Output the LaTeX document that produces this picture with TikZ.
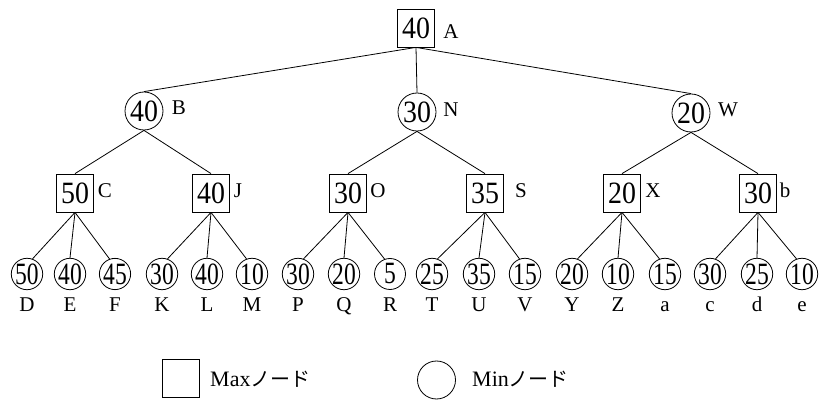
\documentclass[tikz,border=0pt]{standalone}
\usepackage{fontspec}
\setmainfont{Liberation Serif}
\newfontfamily\jpfont{Noto Sans CJK JP}
% narrow digits inside the small leaf circles and the boxes
\newcommand\leafval[1]{\scalebox{0.76}[1]{#1}}
\newcommand\boxval[1]{\scalebox{0.9}[1]{#1}}
\begin{document}
\begin{tikzpicture}[x=1pt,y=-1pt,
  maxnode/.style={draw, line width=0.8pt, minimum width=37pt, minimum height=38pt,
    inner sep=0pt, font=\fontsize{31}{31}\selectfont},
  minnode/.style={draw, circle, line width=0.8pt, minimum size=38pt, inner sep=0pt,
    font=\fontsize{31}{31}\selectfont},
  leafnode/.style={draw, circle, line width=0.8pt, minimum size=31pt, inner sep=0pt,
    font=\fontsize{31}{31}\selectfont},
  tag/.style={font=\fontsize{21}{21}\selectfont, inner sep=0pt},
  edge/.style={line width=0.8pt},
  legendtext/.style={anchor=west, inner sep=0pt, font=\fontsize{22}{22}\selectfont}]
\useasboundingbox (0,0) rectangle (822,403);

% root
\node[maxnode] (A) at (416,28) {\boxval{40}};
\node[tag] (tA) at (451,32) {A};

% second level (min)
\node[minnode] (B) at (144,111) {\boxval{40}};
\node[minnode] (N) at (417,112) {\boxval{30}};
\node[minnode] (W) at (691,113) {\boxval{20}};
\node[tag] (tB) at (179,108) {B};
\node[tag] (tN) at (451,110) {N};
\node[tag] (tW) at (728,110) {W};

% third level (max)
\node[maxnode] (C) at (75,193) {\boxval{50}};
\node[maxnode] (J) at (211,193) {\boxval{40}};
\node[maxnode] (O) at (348,193) {\boxval{30}};
\node[maxnode] (S) at (485,193) {\boxval{35}};
\node[maxnode] (X) at (622,193) {\boxval{20}};
\node[maxnode] (b) at (758,193) {\boxval{30}};
\node[tag, anchor=base] (tC) at (105,198) {C};
\node[tag, anchor=base] (tJ) at (238,198) {J};
\node[tag, anchor=base] (tO) at (378,198) {O};
\node[tag, anchor=base] (tS) at (521,198) {S};
\node[tag, anchor=base] (tX) at (653,198) {X};
\node[tag, anchor=base] (tb) at (785,198) {b};

% leaves (min), names set on a common baseline
\foreach \nm/\x/\v/\lab in {
  D/27/50/D, E/70/40/E, F/115/45/F,
  K/162/30/K, L/207/40/L, M/252/10/M,
  P/298/30/P, Q/344/20/Q, R/390/5/R,
  T/432/25/T, U/479/35/U, V/525/15/V,
  Y/572/20/Y, Z/618/10/Z, la/665/15/a,
  lc/710/30/c, ld/757/25/d, le/802/10/e}{
  \node[leafnode] (\nm) at (\x,274) {\leafval{\v}};
  \node[tag, anchor=base] (t\nm) at (\x,312) {\lab};
}

% connectors: root and second level meet the tops of their children
\draw[edge] (A.south) -- (B.north);
\draw[edge] (A.south) -- (N.north);
\draw[edge] (A.south) -- (W.north);
\draw[edge] (B.south) -- (C.north);
\draw[edge] (B.south) -- (J.north);
\draw[edge] (N.south) -- (O.north);
\draw[edge] (N.south) -- (S.north);
\draw[edge] (W.south) -- (X.north);
\draw[edge] (W.south) -- (b.north);
% third level fans out to three leaves each
\foreach \p/\l/\m/\r in {C/D/E/F, J/K/L/M, O/P/Q/R, S/T/U/V, X/Y/Z/la, b/lc/ld/le}{
  \draw[edge] (\p.south) -- (\l.70);
  \draw[edge] (\p.south) -- (\m.north);
  \draw[edge] (\p.south) -- (\r.110);
}

% legend
\node[maxnode] (keymax) at (180.5,378) {};
\node[legendtext] (keymaxtext) at (210,379) {Max{\jpfont\fontsize{20}{20}\selectfont ノード}};
\node[minnode] (keymin) at (436.5,380) {};
\node[legendtext] (keymintext) at (472,379) {Min{\jpfont\fontsize{20}{20}\selectfont ノード}};
\end{tikzpicture}
\end{document}
